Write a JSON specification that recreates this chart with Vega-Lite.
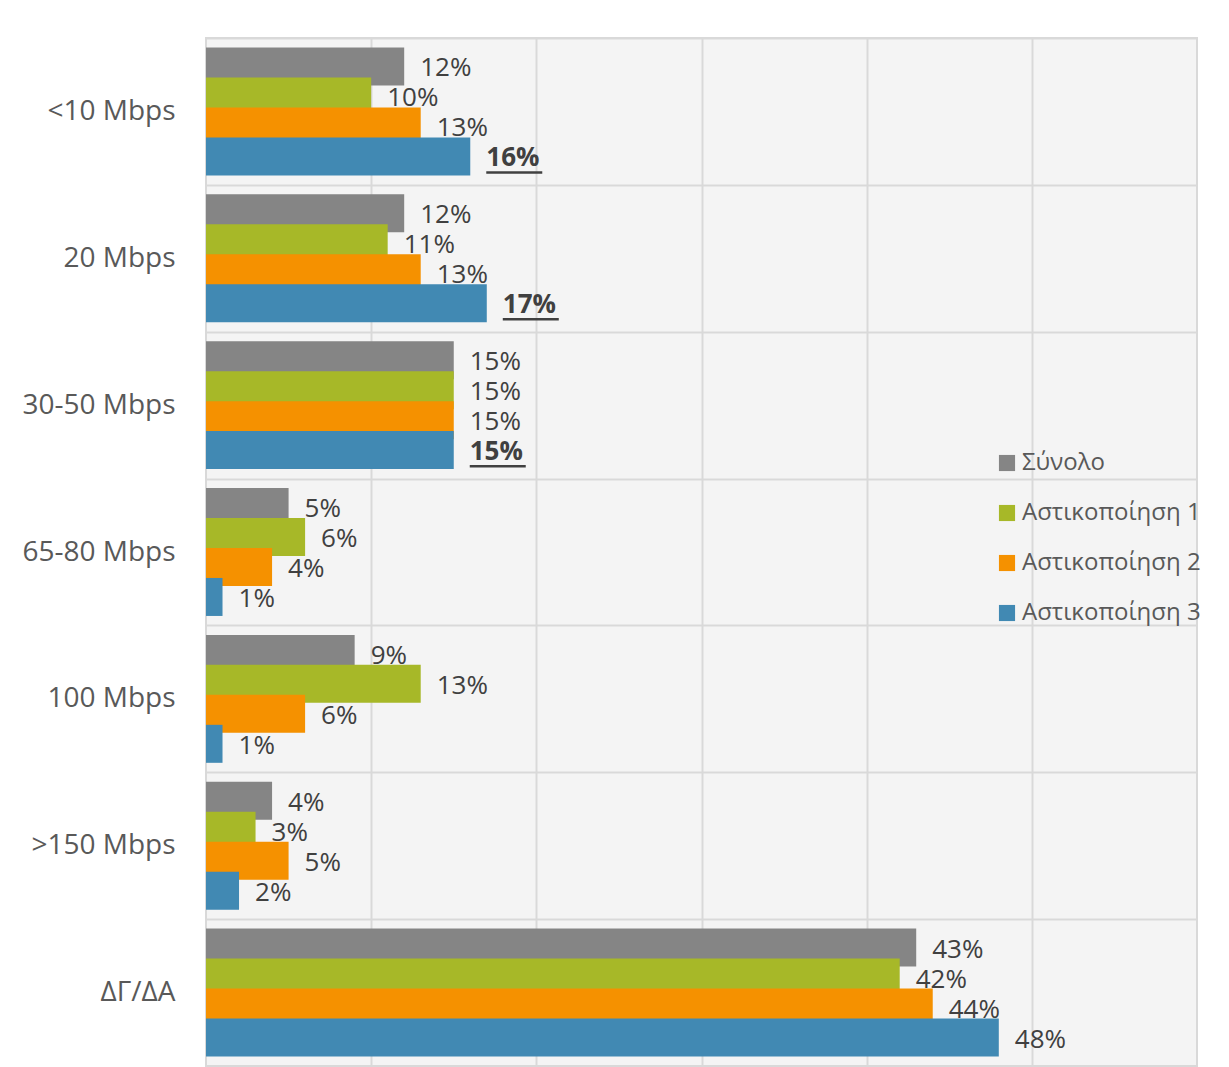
{
  "$schema": "https://vega.github.io/schema/vega-lite/v6.json",
  "autosize": "none",
  "width": 991,
  "height": 1028,
  "padding": {"left": 206, "top": 38, "right": 32, "bottom": 1},
  "background": "white",
  "config": {
    "view": {"fill": "#f4f4f4", "stroke": "#d9d9d9", "strokeWidth": 2},
    "font": "Open Sans"
  },
  "data": {
    "values": [
      {"category": "<10 Mbps\u00a0", "series": "Σύνολο", "value": 0.12},
      {"category": "<10 Mbps\u00a0", "series": "Αστικοποίηση 1", "value": 0.10},
      {"category": "<10 Mbps\u00a0", "series": "Αστικοποίηση 2", "value": 0.13},
      {"category": "<10 Mbps\u00a0", "series": "Αστικοποίηση 3", "value": 0.16},
      {"category": "20 Mbps", "series": "Σύνολο", "value": 0.12},
      {"category": "20 Mbps", "series": "Αστικοποίηση 1", "value": 0.11},
      {"category": "20 Mbps", "series": "Αστικοποίηση 2", "value": 0.13},
      {"category": "20 Mbps", "series": "Αστικοποίηση 3", "value": 0.17},
      {"category": "30-50 Mbps", "series": "Σύνολο", "value": 0.15},
      {"category": "30-50 Mbps", "series": "Αστικοποίηση 1", "value": 0.15},
      {"category": "30-50 Mbps", "series": "Αστικοποίηση 2", "value": 0.15},
      {"category": "30-50 Mbps", "series": "Αστικοποίηση 3", "value": 0.15},
      {"category": "65-80 Mbps", "series": "Σύνολο", "value": 0.05},
      {"category": "65-80 Mbps", "series": "Αστικοποίηση 1", "value": 0.06},
      {"category": "65-80 Mbps", "series": "Αστικοποίηση 2", "value": 0.04},
      {"category": "65-80 Mbps", "series": "Αστικοποίηση 3", "value": 0.01},
      {"category": "100 Mbps", "series": "Σύνολο", "value": 0.09},
      {"category": "100 Mbps", "series": "Αστικοποίηση 1", "value": 0.13},
      {"category": "100 Mbps", "series": "Αστικοποίηση 2", "value": 0.06},
      {"category": "100 Mbps", "series": "Αστικοποίηση 3", "value": 0.01},
      {"category": ">150 Mbps", "series": "Σύνολο", "value": 0.04},
      {"category": ">150 Mbps", "series": "Αστικοποίηση 1", "value": 0.03},
      {"category": ">150 Mbps", "series": "Αστικοποίηση 2", "value": 0.05},
      {"category": ">150 Mbps", "series": "Αστικοποίηση 3", "value": 0.02},
      {"category": "ΔΓ/ΔΑ", "series": "Σύνολο", "value": 0.43},
      {"category": "ΔΓ/ΔΑ", "series": "Αστικοποίηση 1", "value": 0.42},
      {"category": "ΔΓ/ΔΑ", "series": "Αστικοποίηση 2", "value": 0.44},
      {"category": "ΔΓ/ΔΑ", "series": "Αστικοποίηση 3", "value": 0.48}
    ]
  },
  "encoding": {
    "y": {
      "field": "category",
      "type": "nominal",
      "sort": null,
      "scale": {"paddingInner": 0, "paddingOuter": 0},
      "axis": {
        "title": null,
        "domain": false,
        "ticks": false,
        "grid": true,
        "tickBand": "extent",
        "gridColor": "#d9d9d9",
        "gridWidth": 2,
        "labelFontSize": 28,
        "labelColor": "#595959",
        "labelPadding": 31,
        "labelFont": "Open Sans",
        "labelLimit": 0
      }
    },
    "x": {
      "field": "value",
      "type": "quantitative",
      "scale": {"domain": [0, 0.6], "nice": false},
      "axis": {
        "title": null,
        "labels": false,
        "ticks": false,
        "domain": false,
        "grid": true,
        "values": [0.1, 0.2, 0.3, 0.4, 0.5],
        "gridColor": "#d9d9d9",
        "gridWidth": 2
      }
    }
  },
  "layer": [
    {
      "mark": {"type": "bar", "height": 38},
      "encoding": {
        "yOffset": {
          "field": "series",
          "type": "nominal",
          "sort": ["Σύνολο", "Αστικοποίηση 1", "Αστικοποίηση 2", "Αστικοποίηση 3"],
          "scale": {"paddingInner": 0, "paddingOuter": 0.45}
        },
        "color": {
          "field": "series",
          "type": "nominal",
          "scale": {
            "domain": ["Σύνολο", "Αστικοποίηση 1", "Αστικοποίηση 2", "Αστικοποίηση 3"],
            "range": ["#858585", "#a7b828", "#f59100", "#4189b3"]
          },
          "legend": {
            "title": null,
            "orient": "none",
            "legendX": 789,
            "legendY": 413,
            "symbolType": "square",
            "symbolSize": 260,
            "symbolStrokeWidth": 0,
            "labelFontSize": 24,
            "labelColor": "#595959",
            "labelFont": "Open Sans",
            "labelLimit": 0,
            "rowPadding": 26,
            "labelOffset": 3
          }
        }
      }
    },
    {
      "transform": [
        {"filter": "!(datum.series == 'Αστικοποίηση 3' && indexof(['<10 Mbps\u00a0','20 Mbps','30-50 Mbps'], datum.category) >= 0)"}
      ],
      "mark": {"type": "text", "align": "left", "baseline": "middle", "dx": 16, "dy": 2, "fontSize": 26, "color": "#404040", "font": "Open Sans"},
      "encoding": {
        "yOffset": {"field": "series", "type": "nominal", "sort": ["Σύνολο", "Αστικοποίηση 1", "Αστικοποίηση 2", "Αστικοποίηση 3"]},
        "text": {"field": "value", "type": "quantitative", "format": ".0%"}
      }
    },
    {
      "transform": [
        {"filter": "datum.series == 'Αστικοποίηση 3' && indexof(['<10 Mbps\u00a0','20 Mbps','30-50 Mbps'], datum.category) >= 0"}
      ],
      "mark": {"type": "text", "align": "left", "baseline": "middle", "dx": 16, "dy": 2, "fontSize": 26, "fontWeight": "bold", "color": "#404040", "font": "Open Sans"},
      "encoding": {
        "yOffset": {"field": "series", "type": "nominal", "sort": ["Σύνολο", "Αστικοποίηση 1", "Αστικοποίηση 2", "Αστικοποίηση 3"]},
        "text": {"field": "value", "type": "quantitative", "format": ".0%"}
      }
    },
    {
      "transform": [
        {"filter": "datum.series == 'Αστικοποίηση 3' && indexof(['<10 Mbps\u00a0','20 Mbps','30-50 Mbps'], datum.category) >= 0"}
      ],
      "mark": {"type": "tick", "orient": "horizontal", "size": 56, "thickness": 2.5, "xOffset": 44, "yOffset": 61, "color": "#404040", "opacity": 1}
    }
  ]
}
